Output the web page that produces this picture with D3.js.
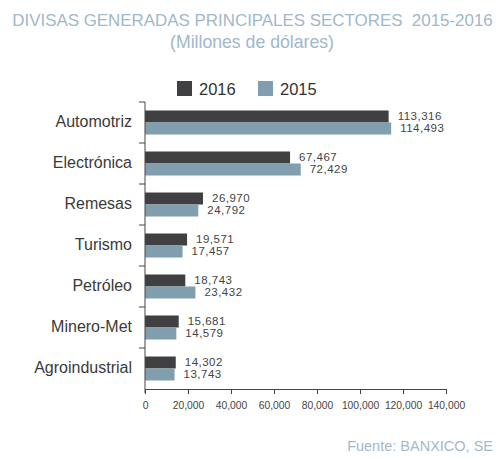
<!DOCTYPE html>
<html>
<head>
<meta charset="utf-8">
<script src="https://cdn.jsdelivr.net/npm/d3@7"></script>
<style>
  body { margin: 0; background: #fff; }
  svg { display: block; font-family: "Liberation Sans", Arial, sans-serif; }
</style>
</head>
<body>
<div id="chart"></div>
<script>
// data
const categories = ["Automotriz", "Electrónica", "Remesas", "Turismo", "Petróleo", "Minero-Met", "Agroindustrial"];
const values2016 = [113316, 67467, 26970, 19571, 18743, 15681, 14302];
const values2015 = [114493, 72429, 24792, 17457, 23432, 14579, 13743];
const seriesNames = ["2016", "2015"];
const xTicks = [0, 20000, 40000, 60000, 80000, 100000, 120000, 140000];

const colors = {"2016": "#404042", "2015": "#809eae"};

const width = 503, height = 458;
const margin = {top: 102, right: 57, bottom: 69, left: 145};

const svg = d3.select("#chart").append("svg")
    .attr("width", width)
    .attr("height", height);

// scale a text's font so it spans the wanted width
function fitWidth(sel, w) {
    const size = parseFloat(sel.style("font-size"));
    const len = sel.node().getComputedTextLength();
    sel.style("font-size", (size * w / len) + "px");
}

// titles
const title = svg.append("text")
    .attr("x", 252.5).attr("y", 26)
    .attr("text-anchor", "middle")
    .attr("fill", "#9fb8ca")
    .attr("xml:space", "preserve")
    .style("white-space", "pre")
    .style("font-size", "17px")
    .text("DIVISAS GENERADAS PRINCIPALES SECTORES  2015-2016");
fitWidth(title, 481);

const subtitle = svg.append("text")
    .attr("x", 252).attr("y", 48)
    .attr("text-anchor", "middle")
    .attr("fill", "#9fb8ca")
    .style("font-size", "15px")
    .text("(Millones de dólares)");
fitWidth(subtitle, 164);

// legend
const legend = svg.append("g").attr("transform", "translate(177,81)");
const legendX = [0, 81];
seriesNames.forEach((s, i) => {
    const g = legend.append("g").attr("transform", "translate(" + legendX[i] + ",0)");
    g.append("rect").attr("width", 15).attr("height", 15).attr("fill", colors[s]);
    g.append("text")
        .attr("x", 22).attr("y", 14)
        .attr("fill", "#333")
        .style("font-size", "16.5px")
        .text(s);
});

// scales
const x = d3.scaleLinear()
    .domain([0, 140000])
    .range([margin.left, width - margin.right]);

const y = d3.scaleBand()
    .domain(categories)
    .range([margin.top, height - margin.bottom]);

const barH = 12;

// bars
const rows = categories.map((c, i) => ({cat: c, v: [values2016[i], values2015[i]]}));

const row = svg.append("g").selectAll("g")
    .data(rows)
    .join("g")
    .attr("transform", d => "translate(0," + (y(d.cat) + y.bandwidth() / 2 - barH) + ")");

row.selectAll("rect")
    .data(d => d.v.map((v, j) => ({v: v, s: seriesNames[j], j: j})))
    .join("rect")
    .attr("x", x(0))
    .attr("y", d => d.j * barH)
    .attr("width", d => x(d.v) - x(0))
    .attr("height", barH)
    .attr("fill", d => colors[d.s]);

row.selectAll("text")
    .data(d => d.v.map((v, j) => ({v: v, j: j})))
    .join("text")
    .attr("x", d => x(d.v) + 9)
    .attr("y", d => d.j * barH + barH / 2 - 0.5)
    .attr("dy", "0.35em")
    .attr("fill", "#444")
    .style("font-size", "11.5px")
    .style("letter-spacing", "0.5px")
    .text(d => d3.format(",")(d.v));

// y axis: line with ticks at band edges
const yAxis = svg.append("g");
yAxis.append("line")
    .attr("x1", margin.left).attr("x2", margin.left)
    .attr("y1", margin.top).attr("y2", height - margin.bottom + 4)
    .attr("stroke", "#444").attr("stroke-width", 1);
yAxis.selectAll("line.tick")
    .data(categories)
    .join("line")
    .attr("class", "tick")
    .attr("x1", margin.left - 6).attr("x2", margin.left)
    .attr("y1", d => y(d)).attr("y2", d => y(d))
    .attr("stroke", "#444");
yAxis.selectAll("text")
    .data(categories)
    .join("text")
    .attr("x", 132)
    .attr("y", d => y(d) + y.bandwidth() / 2 - 1)
    .attr("dy", "0.35em")
    .attr("text-anchor", "end")
    .attr("fill", "#3a3a3a")
    .style("font-size", "16px")
    .text(d => d);

// x axis
const xAxis = svg.append("g")
    .attr("transform", "translate(0," + (height - margin.bottom) + ")")
    .call(d3.axisBottom(x).tickValues(xTicks).tickSize(5).tickSizeOuter(0).tickFormat(d3.format(",")));
xAxis.select(".domain").attr("stroke", "#444");
xAxis.selectAll(".tick line").attr("stroke", "#444");
xAxis.selectAll(".tick text")
    .attr("y", 13)
    .attr("fill", "#444")
    .style("font-size", "10.3px")
    .style("font-family", "\"Liberation Sans\", Arial, sans-serif");

// source
const source = svg.append("text")
    .attr("x", 493).attr("y", 451)
    .attr("text-anchor", "end")
    .attr("fill", "#a3b9c9")
    .style("font-size", "14px")
    .text("Fuente: BANXICO, SE");
fitWidth(source, 146);
</script>
</body>
</html>
